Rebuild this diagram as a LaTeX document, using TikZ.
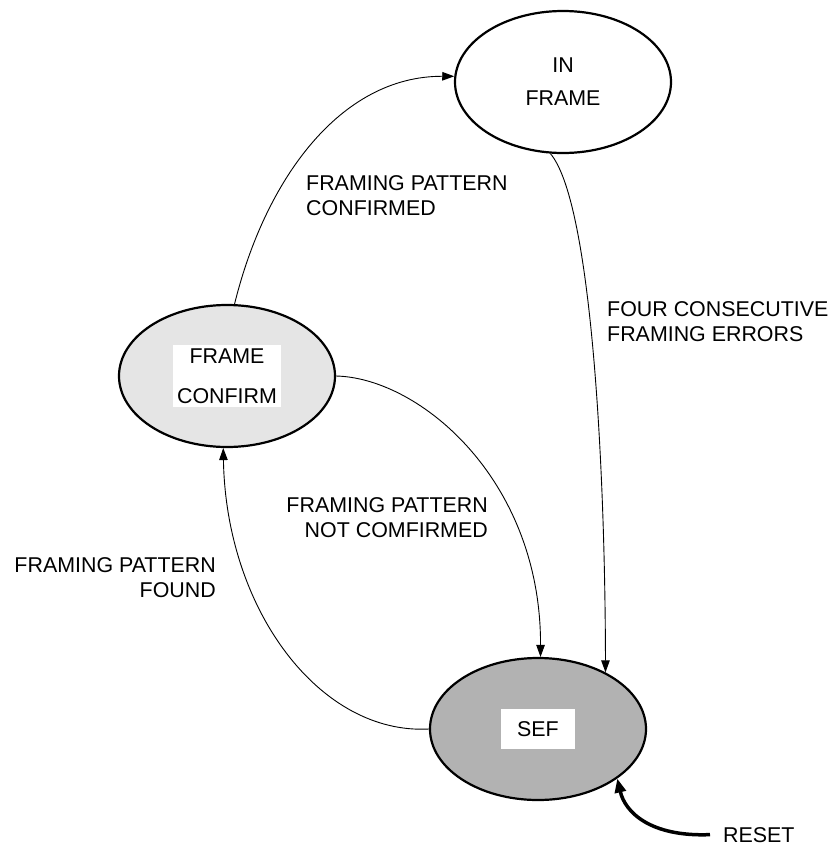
\documentclass[tikz,border=0pt]{standalone}
\usepackage{fontspec}
\setmainfont{Liberation Sans}
\usetikzlibrary{shapes.geometric,arrows.meta}

\begin{document}
\begin{tikzpicture}[
    x=1pt, y=-1pt,
    font=\fontsize{21.4}{25}\selectfont,
    state/.style={
      ellipse,
      draw=black,
      line width=2.2pt,
      minimum width=216pt,
      minimum height=142pt,
      align=center,
      inner sep=0pt
    },
    tag/.style={fill=white, align=center, inner xsep=4.5pt, inner ysep=4pt},
    edgelabel/.style={inner sep=0pt},
    conn/.style={line width=0.9pt, -{Triangle[length=12pt,width=8.5pt]}}
  ]
  \useasboundingbox (0,0) rectangle (828,846);

  % State IN FRAME
  \node[state] (inframe) at (563,82) {IN\\[8pt]FRAME};

  % State FRAME CONFIRM
  \node[state, fill=black!10] (confirm) at (227,376) {};
  \node[tag] (confirmtag) at (confirm) {FRAME\\[15pt]CONFIRM};

  % State SEF
  \node[state, fill=black!30] (sef) at (538,729) {};
  \node[tag, minimum width=74pt, minimum height=40pt] (seftag) at (sef) {SEF};

  % Transition labels
  \node[edgelabel, anchor=north west, align=left] (lblconfirmed) at (306,175) {FRAMING PATTERN\\CONFIRMED};
  \node[edgelabel, anchor=north west, align=left] (lblerrors) at (607,301) {FOUR CONSECUTIVE\\FRAMING ERRORS};
  \node[edgelabel, anchor=north east, align=right] (lblnot) at (488,497) {FRAMING PATTERN\\NOT COMFIRMED};
  \node[edgelabel, anchor=north east, align=right] (lblfound) at (216,557) {FRAMING PATTERN\\FOUND};
  \node[anchor=base west, inner xsep=13pt, inner ysep=0pt] (reset) at (710,842) {RESET};

  % Transitions
  \draw[conn] (confirm.84) .. controls (265,180) and (340,76) .. (inframe.177);
  \draw[conn] (inframe.-100) .. controls (590,200) and (605,450) .. (sef.40);
  \draw[conn] (confirm.east) .. controls (420,378) and (541,480) .. (sef.88);
  \draw[conn] (sef.west) .. controls (320,735) and (226,610) .. (confirm.-93);

  % Reset
  \draw[line width=3.5pt, -{Triangle[length=14pt,width=11pt]}] (reset.west) .. controls (650,837) and (625,812) .. (sef.-32);
\end{tikzpicture}
\end{document}
